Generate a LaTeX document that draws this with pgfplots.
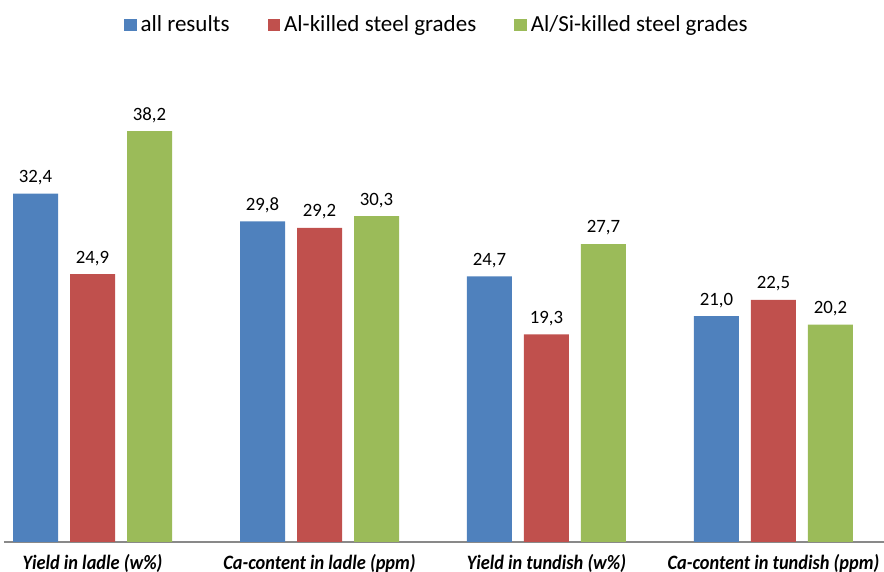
\documentclass[border=0pt]{standalone}
\usepackage{pgfplots}
\pgfplotsset{compat=1.18}
\usepackage{fontspec}
\setmainfont{Carlito}
\newfontfamily\catfont[FakeStretch=0.9]{Carlito}
\definecolor{cblue}{HTML}{4F81BD}
\definecolor{cred}{HTML}{C0504D}
\definecolor{cgreen}{HTML}{9BBB59}
\definecolor{axgray}{HTML}{898989}
\pgfplotstableread{
x all al alsi
0 32.4 24.9 38.2
1 29.8 29.2 30.3
2 24.7 19.3 27.7
3 21.0 22.5 20.2
}\datatable
\begin{document}
\begin{tikzpicture}
\begin{axis}[
  name=ax,
  scale only axis,
  width=440pt, height=242pt,
  xmin=-0.39, xmax=3.487,
  ymin=0, ymax=45,
  ybar=6pt, bar width=22.5pt,
  axis y line=none,
  axis x line*=bottom,
  x axis line style={axgray, line width=0.8pt, -},
  xtick=data,
  xticklabels={Yield in ladle (w\%), Ca-content in ladle (ppm), Yield in tundish (w\%), Ca-content in tundish (ppm)},
  xticklabel style={font=\catfont\bfseries\itshape\fontsize{10.2}{11}\selectfont, yshift=-2.5pt},
  major tick length=0pt,
  clip=false,
  /pgf/number format/assume math mode=true,
  nodes near coords={\pgfmathprintnumber[fixed,fixed zerofill,precision=1,use comma,assume math mode=true]{\pgfplotspointmeta}},
  every node near coord/.append style={font=\fontsize{9.4}{10}\selectfont, text=black, yshift=0.8pt},
  legend style={at={(0.493,1)}, anchor=center, yshift=16.5pt, draw=none, fill=none,
    font=\fontsize{11.5}{13}\selectfont, legend columns=3,
    /tikz/every even column/.append style={column sep=17pt}},
  legend image code/.code={\fill[#1,draw=none] (0pt,-3.2pt) rectangle (6.3pt,3.2pt);},
]
\addplot[fill=cblue, draw=none] table[x=x,y=all] {\datatable};
\addplot[fill=cred, draw=none] table[x=x,y=al] {\datatable};
\addplot[fill=cgreen, draw=none] table[x=x,y=alsi] {\datatable};
\legend{all results, Al-killed steel grades, Al/Si-killed steel grades}
\end{axis}
\pgfresetboundingbox
\path[use as bounding box] ([xshift=-2pt,yshift=-15pt]ax.south west) rectangle ([yshift=29pt]ax.north east);
\end{tikzpicture}
\end{document}
